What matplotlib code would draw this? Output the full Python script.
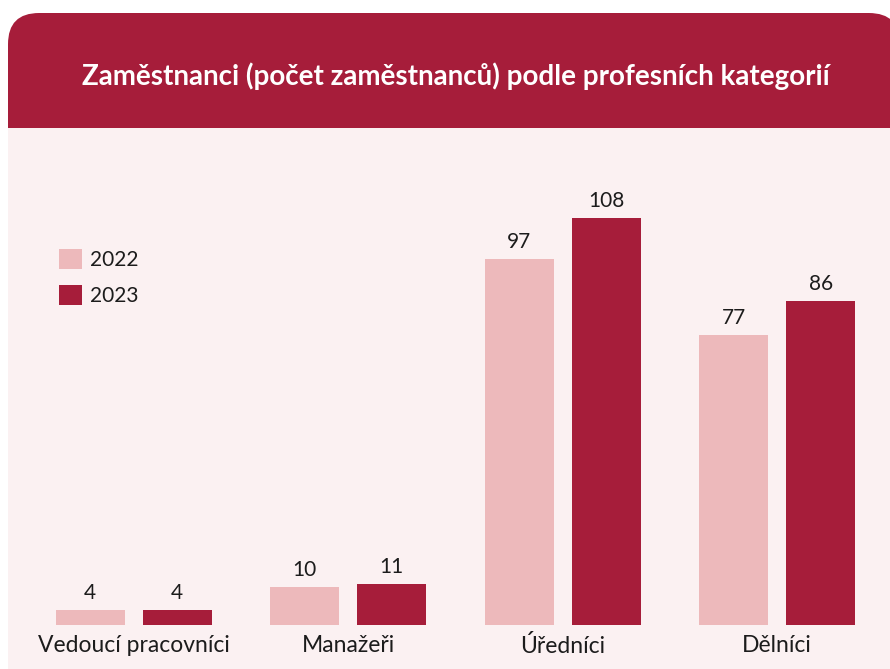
import matplotlib
matplotlib.use("Agg")
import matplotlib.pyplot as plt
from matplotlib.patches import FancyBboxPatch, Rectangle
import numpy as np

categories = ["Vedoucí pracovníci", "Manažeři", "Úředníci", "Dělníci"]
years = ["2022", "2023"]
values_2022 = [4, 10, 97, 77]
values_2023 = [4, 11, 108, 86]
title = "Zaměstnanci (počet zaměstnanců) podle profesních kategorií"

HEADER = "#A61D3A"
BG = "#FBF1F2"
LIGHT = "#EDB9BB"
TEXT = "#1c1c1c"
FONT = ["Lato", "DejaVu Sans"]

W, H = 890, 669
fig = plt.figure(figsize=(W / 100, H / 100), dpi=100)
fig.patch.set_facecolor("white")


def fx(px):
    return px / W


def fy(py):
    return 1 - py / H


# card: rounded header on top, pink body below
card = FancyBboxPatch((fx(8), fy(720)), fx(900) - fx(8), fy(13) - fy(720),
                      boxstyle="round,pad=0,rounding_size=0.035",
                      transform=fig.transFigure, facecolor=HEADER,
                      edgecolor="none", mutation_aspect=W / H, zorder=-2)
fig.patches.append(card)
fig.patches.append(Rectangle((fx(8), 0), 1, fy(128), transform=fig.transFigure,
                             facecolor=BG, edgecolor="none", zorder=-1))
fig.text(fx(456), fy(76), title, color="white", fontsize=20,
         fontweight="bold", ha="center", va="center", family=FONT)

# plot area: group spacing 214.5 px, baseline at y=625
left, right = 26.5, 884.5
top, base = 140, 625
ax = fig.add_axes([fx(left), fy(base), fx(right) - fx(left), fy(top) - fy(base)])
ax.set_zorder(2)
ax.set_facecolor("none")
ppu = 3.77
ax.set_xlim(-0.5, len(categories) - 0.5)
ax.set_ylim(0, (base - top) / ppu)

x = np.arange(len(categories))
w = 0.322
off = 0.203
b1 = ax.bar(x - off, values_2022, width=w, color=LIGHT, label=years[0])
b2 = ax.bar(x + off, values_2023, width=w, color=HEADER, label=years[1])
for bars, vals in ((b1, values_2022), (b2, values_2023)):
    for r, v in zip(bars, vals):
        ax.annotate(str(v), (r.get_x() + r.get_width() / 2, v),
                    xytext=(0, 5), textcoords="offset points",
                    ha="center", va="bottom", fontsize=15, color=TEXT,
                    family=FONT)

ax.set_xticks(x)
ax.set_xticklabels(categories, fontsize=16.5, color=TEXT, family=FONT)
ax.tick_params(axis="x", length=0, pad=7)
ax.set_yticks([])
for s in ax.spines.values():
    s.set_visible(False)

leg = ax.legend(loc="upper left", bbox_to_anchor=(fx(59), fy(249)),
                bbox_transform=fig.transFigure, borderpad=0, borderaxespad=0,
                frameon=False, handlelength=1.1, handleheight=1.1,
                handletextpad=0.4, labelspacing=0.7,
                prop={"family": FONT, "size": 15})
for t in leg.get_texts():
    t.set_color(TEXT)

fig.savefig("out.png", dpi=100, facecolor=fig.get_facecolor())
